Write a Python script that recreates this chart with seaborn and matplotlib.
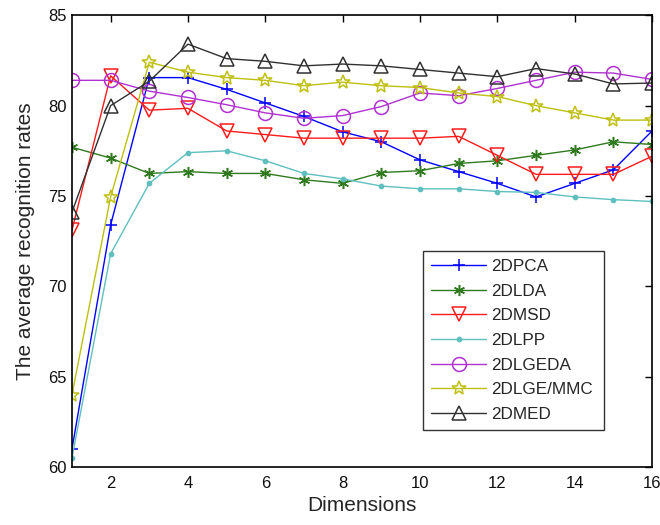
import matplotlib
matplotlib.use("Agg")
import matplotlib.pyplot as plt
import seaborn as sns
import pandas as pd

dims = list(range(1, 17))
pca   = [61.0, 73.4, 81.55, 81.55, 80.9, 80.15, 79.4, 78.55, 78.0, 77.0, 76.35, 75.7, 74.95, 75.7, 76.45, 78.6]
lda   = [77.7, 77.1, 76.25, 76.35, 76.25, 76.25, 75.9, 75.7, 76.3, 76.4, 76.8, 76.95, 77.25, 77.55, 78.0, 77.85]
msd   = [73.1, 81.65, 79.75, 79.85, 78.6, 78.4, 78.2, 78.2, 78.2, 78.2, 78.3, 77.25, 76.2, 76.2, 76.2, 77.2]
lpp   = [60.5, 71.8, 75.7, 77.4, 77.5, 76.95, 76.25, 75.95, 75.55, 75.4, 75.4, 75.25, 75.2, 74.95, 74.8, 74.7]
lgeda = [81.4, 81.4, 80.8, 80.45, 80.05, 79.6, 79.3, 79.45, 79.95, 80.7, 80.55, 80.95, 81.4, 81.85, 81.8, 81.45]
lgemmc= [64.0, 74.95, 82.4, 81.85, 81.55, 81.4, 81.1, 81.3, 81.1, 81.0, 80.7, 80.5, 80.0, 79.6, 79.2, 79.2]
med   = [74.1, 80.0, 81.35, 83.4, 82.6, 82.45, 82.2, 82.3, 82.2, 82.0, 81.8, 81.6, 82.05, 81.75, 81.2, 81.25]

names = ["2DPCA", "2DLDA", "2DMSD", "2DLPP", "2DLGEDA", "2DLGE/MMC", "2DMED"]
series = [pca, lda, msd, lpp, lgeda, lgemmc, med]
colors = ["#0000ff", "#2f7a1f", "#ff1a1a", "#5fbfbf", "#b030d0", "#bfbf10", "#303030"]
markers = ["+", (6, 2, 0), "v", ".", "o", "*", "^"]
msizes = [9, 8, 10, 6, 10, 10, 10]
hollow = [False, False, True, False, True, True, True]

sns.set_style("white")
plt.rcParams['font.family'] = ['Liberation Sans', 'DejaVu Sans']

fig = plt.figure(figsize=(6.6, 5.25), dpi=100)
ax = fig.add_axes([0.109, 0.110, 0.879, 0.861])

for name, vals, c, m, ms, h in zip(names, series, colors, markers, msizes, hollow):
    df = pd.DataFrame({"Dimensions": dims, "rate": vals})
    kw = dict(markerfacecolor="none") if h else dict(markerfacecolor=c)
    sns.lineplot(data=df, x="Dimensions", y="rate", ax=ax, color=c, marker=m,
                 markersize=ms, markeredgecolor=c, markeredgewidth=1.1,
                 linewidth=1.0, label=name, **kw)

ax.set_xlim(1, 16)
ax.set_ylim(60, 85)
ax.set_xticks([2, 4, 6, 8, 10, 12, 14, 16])
ax.set_yticks([60, 65, 70, 75, 80, 85])
ax.tick_params(direction="in", top=True, right=True, length=5, width=1,
               labelsize=12, color="black", labelcolor="#111111")
ax.tick_params(axis="x", pad=6)
for s in ax.spines.values():
    s.set_color("black")
    s.set_linewidth(1.2)
ax.set_xlabel("Dimensions", fontsize=15, labelpad=4)
ax.set_ylabel("The average recognition rates", fontsize=15, labelpad=10)

leg = ax.legend(loc="lower left", bbox_to_anchor=(0.605, 0.082, 0.312, 0.40),
                mode="expand", frameon=True, fancybox=False, fontsize=12.3,
                borderaxespad=0, handlelength=3.2, labelspacing=0.56,
                borderpad=0.5, handletextpad=0.3)
leg.get_frame().set_edgecolor("black")
leg.get_frame().set_linewidth(1.0)

fig.savefig("out.png", dpi=100)
